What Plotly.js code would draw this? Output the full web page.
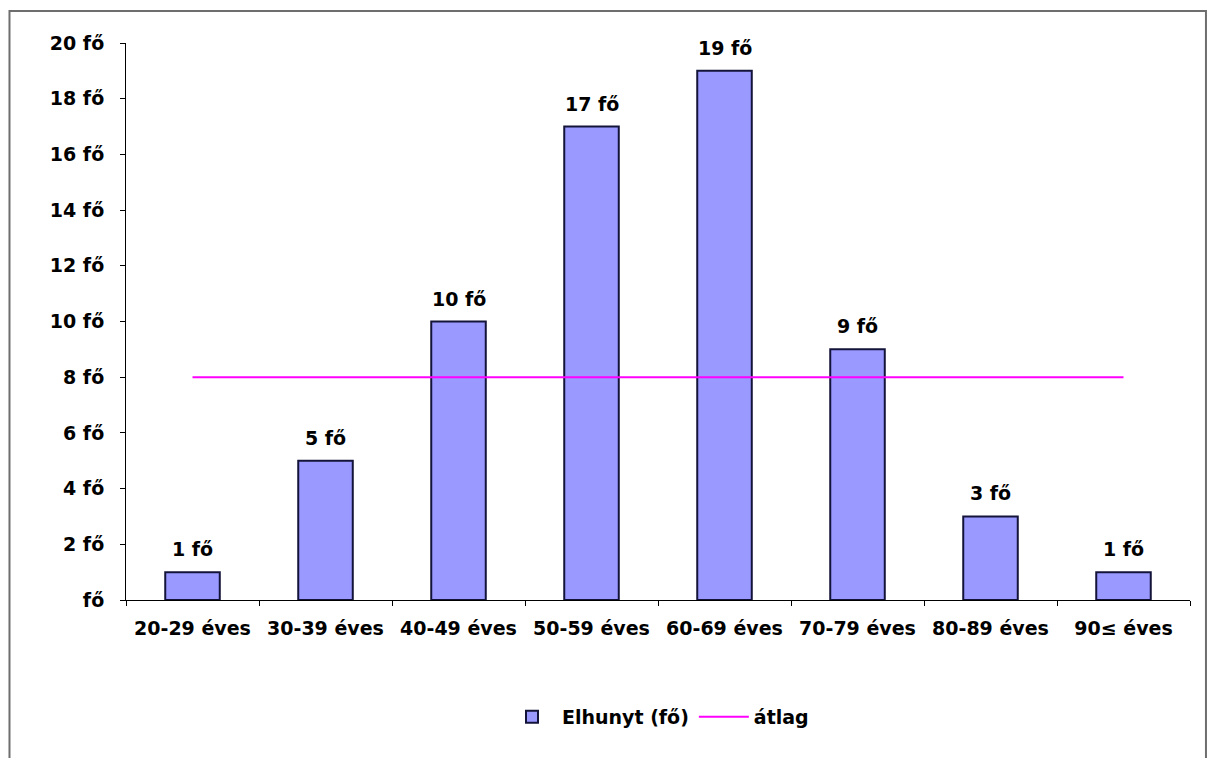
<!DOCTYPE html>
<html>
<head>
<meta charset="utf-8">
<script src="https://cdn.plot.ly/plotly-3.0.1.min.js"></script>
<style>
  html, body { margin: 0; padding: 0; background: #ffffff; }
  #chart { width: 1208px; height: 758px; }
</style>
</head>
<body>
<div id="chart"></div>
<script>
// Age groups of the deceased and head counts per group
const ageGroups = ['20-29 éves', '30-39 éves', '40-49 éves', '50-59 éves',
                   '60-69 éves', '70-79 éves', '80-89 éves', '90≤ éves'];
const deceased = [1, 5, 10, 17, 19, 9, 3, 1];
const averageLevel = [8, 8];
const averageSpan = [ageGroups[0], ageGroups[ageGroups.length - 1]];
const yTickValues = [0, 2, 4, 6, 8, 10, 12, 14, 16, 18, 20];
const yTickLabels = ['fő', '2 fő', '4 fő', '6 fő', '8 fő', '10 fő',
                     '12 fő', '14 fő', '16 fő', '18 fő', '20 fő'];

const font = 'DejaVu Sans, Verdana, sans-serif';
const fontSize = 19;

const bars = {
  type: 'bar',
  name: 'Elhunyt (fő)',
  x: ageGroups,
  y: deceased,
  width: 0.41,
  marker: { color: '#9999ff', line: { color: '#14143a', width: 2 } },
  hoverinfo: 'x+y'
};

const avgLine = {
  type: 'scatter',
  mode: 'lines',
  name: 'átlag',
  x: averageSpan,
  y: averageLevel,
  line: { color: '#ff00ff', width: 2 }
};

// Value labels above each bar
const valueLabels = ageGroups.map((g, i) => ({
  x: g,
  y: deceased[i],
  xref: 'x',
  yref: 'y',
  text: '<b>' + deceased[i] + ' fő</b>',
  showarrow: false,
  yanchor: 'bottom',
  yshift: 10,
  font: { family: font, size: fontSize, color: '#000' }
}));

const layout = {
  width: 1208,
  height: 758,
  paper_bgcolor: '#ffffff',
  plot_bgcolor: '#ffffff',
  margin: { l: 126, r: 18, t: 43, b: 158 },
  font: { family: font, size: fontSize, color: '#000' },
  showlegend: true,
  legend: {
    orientation: 'h',
    x: 0.5, xanchor: 'center',
    y: -0.21, yanchor: 'middle',
    font: { family: font, size: fontSize, color: '#000', weight: 'bold' },
    itemwidth: 50,
    traceorder: 'normal'
  },
  xaxis: {
    type: 'category',
    showline: true,
    linecolor: '#000',
    linewidth: 1,
    ticks: 'outside',
    tickson: 'boundaries',
    ticklen: 5,
    tickcolor: '#000',
    showgrid: false,
    zeroline: false,
    tickfont: { family: font, size: fontSize, color: '#000', weight: 'bold' },
    ticklabelstandoff: 11,
    fixedrange: true
  },
  yaxis: {
    range: [0, 20],
    showline: true,
    linecolor: '#000',
    linewidth: 1,
    ticks: 'outside',
    ticklen: 5,
    tickcolor: '#000',
    tickvals: yTickValues,
    ticktext: yTickLabels,
    showgrid: false,
    zeroline: false,
    tickfont: { family: font, size: fontSize, color: '#000', weight: 'bold' },
    ticklabelstandoff: 12,
    fixedrange: true
  },
  annotations: valueLabels,
  shapes: [{
    type: 'rect',
    xref: 'paper', yref: 'paper',
    x0: -0.1095, x1: 1.0150,
    y0: -0.30, y1: 1.0575,
    line: { color: '#6e6e6e', width: 2 },
    fillcolor: 'rgba(0,0,0,0)',
    layer: 'below'
  }]
};

Plotly.newPlot('chart', [bars, avgLine], layout, { displayModeBar: false, staticPlot: true });
</script>
</body>
</html>
